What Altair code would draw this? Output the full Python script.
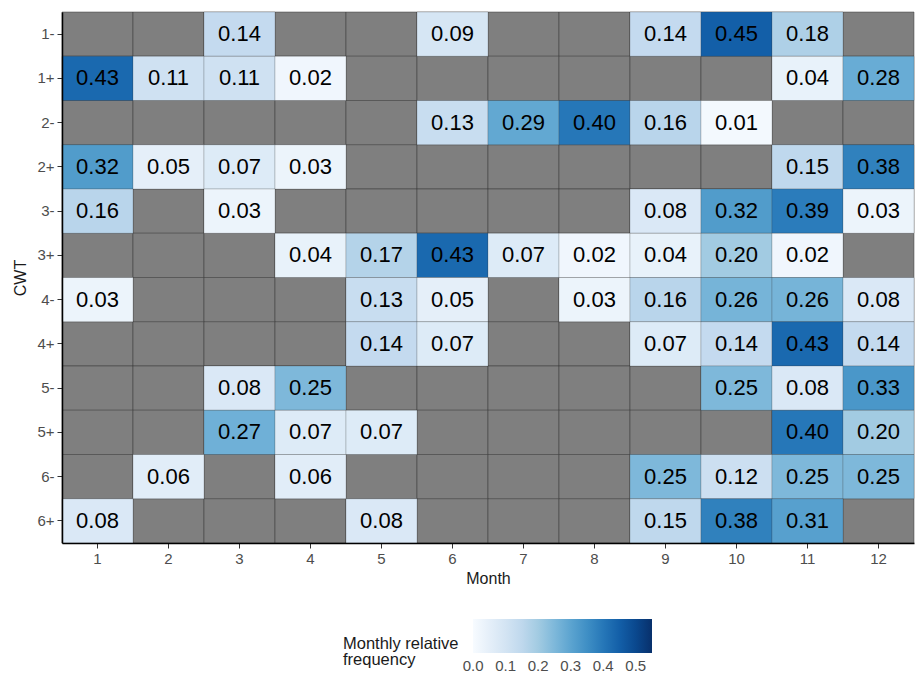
import altair as alt
import pandas as pd

cwt = ["1-", "1+", "2-", "2+", "3-", "3+", "4-", "4+", "5-", "5+", "6-", "6+"]
months = list(range(1, 13))
nan = None
# rows = CWT, columns = months 1..12 (None = no data)
freq = [
    [nan, nan, 0.14, nan, nan, 0.09, nan, nan, 0.14, 0.45, 0.18, nan],
    [0.43, 0.11, 0.11, 0.02, nan, nan, nan, nan, nan, nan, 0.04, 0.28],
    [nan, nan, nan, nan, nan, 0.13, 0.29, 0.40, 0.16, 0.01, nan, nan],
    [0.32, 0.05, 0.07, 0.03, nan, nan, nan, nan, nan, nan, 0.15, 0.38],
    [0.16, nan, 0.03, nan, nan, nan, nan, nan, 0.08, 0.32, 0.39, 0.03],
    [nan, nan, nan, 0.04, 0.17, 0.43, 0.07, 0.02, 0.04, 0.20, 0.02, nan],
    [0.03, nan, nan, nan, 0.13, 0.05, nan, 0.03, 0.16, 0.26, 0.26, 0.08],
    [nan, nan, nan, nan, 0.14, 0.07, nan, nan, 0.07, 0.14, 0.43, 0.14],
    [nan, nan, 0.08, 0.25, nan, nan, nan, nan, nan, 0.25, 0.08, 0.33],
    [nan, nan, 0.27, 0.07, 0.07, nan, nan, nan, nan, nan, 0.40, 0.20],
    [nan, 0.06, nan, 0.06, nan, nan, nan, nan, 0.25, 0.12, 0.25, 0.25],
    [0.08, nan, nan, nan, 0.08, nan, nan, nan, 0.15, 0.38, 0.31, nan],
]
legend_values = [0.0, 0.1, 0.2, 0.3, 0.4, 0.5]
blues = ["#f7fbff", "#deebf7", "#c6dbef", "#9ecae1", "#6baed6",
         "#4292c6", "#2171b5", "#08519c", "#08306b"]

rows = []
for i, c in enumerate(cwt):
    for j, m in enumerate(months):
        rows.append({"CWT": c, "Month": m, "freq": freq[i][j]})
df = pd.DataFrame(rows)

dmin, dmax = -0.0005, 0.55
dom = [dmin + (dmax - dmin) * k / (len(blues) - 1) for k in range(len(blues))]

FONT = "Liberation Sans"
xenc = alt.X("Month:O", title="Month",
             scale=alt.Scale(paddingInner=0, paddingOuter=0),
             axis=alt.Axis(labelAngle=0, labelColor="#4d4d4d", labelFontSize=15,
                           tickColor="#333333", tickSize=5, labelPadding=3,
                           domainColor="black", domainWidth=1.5,
                           titleFontSize=16, titleFontWeight="normal",
                           titleColor="#1a1a1a", titlePadding=4))
yenc = alt.Y("CWT:N", title="CWT", sort=cwt,
             scale=alt.Scale(paddingInner=0, paddingOuter=0),
             axis=alt.Axis(labelColor="#4d4d4d", labelFontSize=15,
                           tickColor="#333333", tickSize=5, labelPadding=3,
                           domainColor="black", domainWidth=1.5,
                           titleFontSize=16, titleFontWeight="normal",
                           titleColor="#1a1a1a", titlePadding=8))

base = alt.Chart(df).encode(x=xenc, y=yenc)

bg = base.mark_rect(fill="#7f7f7f", stroke="#333333", strokeWidth=0.8,
                    strokeOpacity=0.6)

tiles = base.transform_filter("isValid(datum.freq)").mark_rect(
    stroke="#333333", strokeWidth=0.6, strokeOpacity=0.35
).encode(
    color=alt.Color("freq:Q",
                    scale=alt.Scale(domain=dom, range=blues, nice=False, zero=False),
                    legend=alt.Legend(title=["", "Monthly relative", "frequency"],
                                      orient="none", direction="horizontal",
                                      legendX=281, legendY=607,
                                      titleOrient="left", titleFontSize=16.5,
                                      titleFontWeight="normal", titleColor="#1a1a1a",
                                      titleLineHeight=16.5, titleAnchor="start",
                                      titleBaseline="top",
                                      titlePadding=14,
                                      gradientLength=179, gradientThickness=34,
                                      values=legend_values, format=".1f",
                                      labelFontSize=15, labelColor="#4d4d4d",
                                      labelOffset=6, labelOverlap=False,
                                      gradientStrokeWidth=0))
)

labels = base.transform_filter("isValid(datum.freq)").mark_text(
    fontSize=22, color="black", font=FONT
).encode(text=alt.Text("freq:Q", format=".2f"))

chart = (bg + tiles + labels).properties(
    width=852, height=531,
    padding={"left": 4, "top": 3, "right": 0, "bottom": 0},
).configure(font=FONT).configure_view(stroke=None).configure_axis(grid=False)

chart.save("out.html", embed_options={"renderer": "svg", "actions": False})
